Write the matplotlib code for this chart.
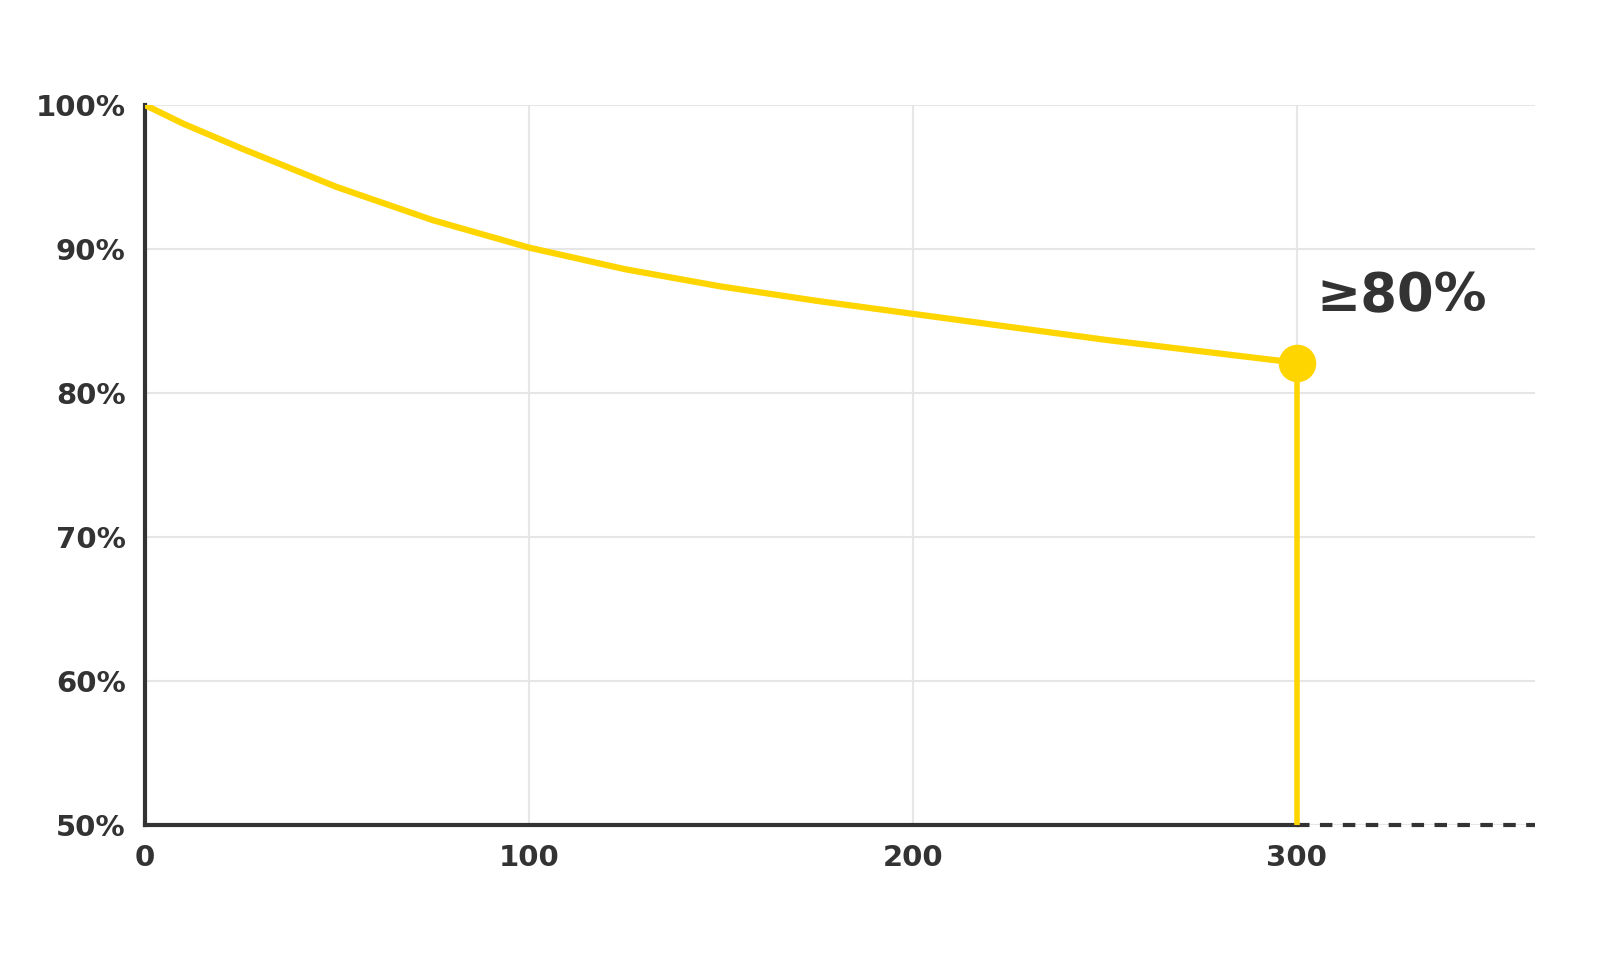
import matplotlib
matplotlib.use("Agg")
import matplotlib.pyplot as plt

cycles = [0, 10, 25, 50, 75, 100, 125, 150, 175, 200, 225, 250, 275, 300]
capacity = [100, 98.7, 97.0, 94.3, 92.0, 90.1, 88.6, 87.4, 86.4, 85.5, 84.6, 83.7, 82.9, 82.1]
xticks = [0, 100, 200, 300]
yticks = [50, 60, 70, 80, 90, 100]
ylabels = ["50%", "60%", "70%", "80%", "90%", "100%"]
label = "≥80%"

yellow = "#FFD500"
dark = "#333333"

fig = plt.figure(figsize=(16.24, 9.69), dpi=100)
ax = fig.add_axes([0.0893, 0.1486, 0.9451 - 0.0893, 0.8916 - 0.1486])
ax.set_xlim(0, 362)
ax.set_ylim(50, 100)

ax.grid(True, color="#e6e6e6", lw=1.5)
ax.set_axisbelow(True)

ax.plot(cycles, capacity, color=yellow, lw=4.5, solid_capstyle="round", zorder=3)
ax.plot([cycles[-1], cycles[-1]], [capacity[-1], 50], color=yellow, lw=4, zorder=3)
ax.plot([cycles[-1]], [capacity[-1]], "o", color=yellow, ms=26, zorder=4)
ax.plot([cycles[-1], 362], [50, 50], color=dark, lw=3, ls=(0, (3, 2.5)), zorder=2, clip_on=False)
ax.text(cycles[-1] + 5, capacity[-1] + 2.8, label, fontsize=38, fontweight="bold",
        color=dark, ha="left", va="bottom")

for s in ["top", "right"]:
    ax.spines[s].set_visible(False)
ax.spines["left"].set_color(dark)
ax.spines["left"].set_linewidth(3)
ax.spines["bottom"].set_color(dark)
ax.spines["bottom"].set_linewidth(3)
ax.spines["bottom"].set_bounds(0, 300)

ax.set_xticks(xticks)
ax.set_yticks(yticks)
ax.set_yticklabels(ylabels)
ax.tick_params(length=0, labelsize=21, colors=dark, pad=14)
for t in ax.get_xticklabels() + ax.get_yticklabels():
    t.set_fontweight("bold")

fig.savefig("out.png", dpi=100, facecolor="white")
